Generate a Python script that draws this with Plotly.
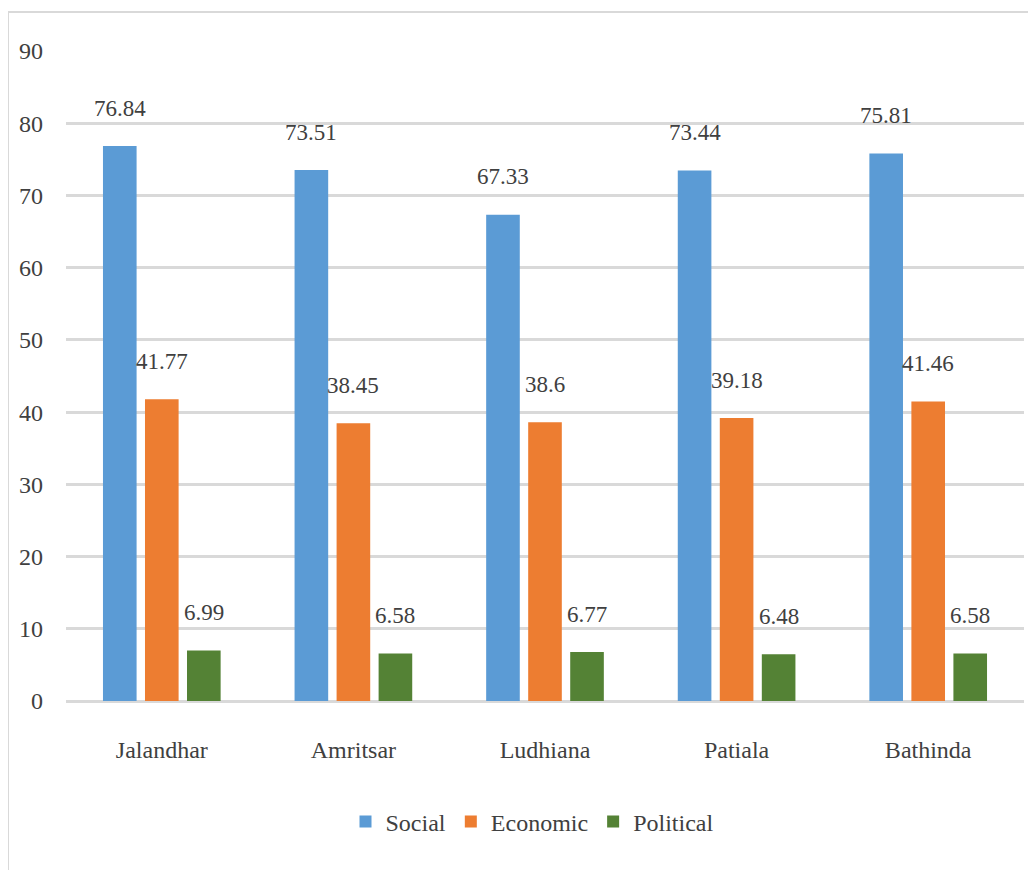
import plotly.graph_objects as go

districts = ["Jalandhar", "Amritsar", "Ludhiana", "Patiala", "Bathinda"]
social = [76.84, 73.51, 67.33, 73.44, 75.81]
economic = [41.77, 38.45, 38.6, 39.18, 41.46]
political = [6.99, 6.58, 6.77, 6.48, 6.58]
series_names = ["Social", "Economic", "Political"]
y_ticks = [0, 10, 20, 30, 40, 50, 60, 70, 80, 90]

colors = ["#5B9BD5", "#ED7D31", "#548235"]
FONT = "Liberation Serif, Times New Roman, serif"
TXT = "#404040"

OFF = 8  # page body margin
W, H = 1036 - OFF, 870 - OFF
ML, MR, MT, MB = 66 - OFF, 12, 51 - OFF, 169
plot_w = W - ML - MR
plot_h = H - MT - MB
BARGAP = 0.342
BARGROUPGAP = 0.2

fig = go.Figure()
all_series = [social, economic, political]
for name, vals, col in zip(series_names, all_series, colors):
    fig.add_trace(go.Bar(
        x=districts, y=vals, name=name,
        marker=dict(color=col, line=dict(width=0)),
    ))

slot = plot_w / len(districts) * (1 - BARGAP) / 3
annotations = []
for si, vals in enumerate(all_series):
    for d, v in zip(districts, vals):
        annotations.append(dict(
            x=d, y=v, xref="x", yref="y", text=str(v), showarrow=False,
            xshift=(si - 1) * slot, yshift=38, yanchor="middle", xanchor="center",
            font=dict(family=FONT, size=23, color=TXT),
        ))

def px_x(px):
    return (px - OFF - ML) / plot_w

def px_y(py):
    return (H - MB - (py - OFF)) / plot_h

shapes = [
    dict(type="line", xref="paper", yref="paper", x0=px_x(8), x1=px_x(1045),
         y0=px_y(12), y1=px_y(12), line=dict(color="#D9D9D9", width=2)),
    dict(type="line", xref="paper", yref="paper", x0=px_x(8), x1=px_x(8),
         y0=px_y(12), y1=px_y(880), line=dict(color="#D9D9D9", width=2)),
]

fig.update_layout(
    width=W, height=H,
    margin=dict(l=ML, r=MR, t=MT, b=MB, pad=0),
    paper_bgcolor="white", plot_bgcolor="white",
    barmode="group", bargap=BARGAP, bargroupgap=BARGROUPGAP,
    font=dict(family=FONT, size=23, color=TXT),
    xaxis=dict(showgrid=False, showline=False, zeroline=False, ticks="",
               tickfont=dict(family=FONT, size=24, color=TXT), ticklabelstandoff=32),
    yaxis=dict(range=[0, 90], tickvals=y_ticks, showgrid=True, gridcolor="#D9D9D9",
               gridwidth=2.5, zeroline=True, zerolinecolor="#D9D9D9", zerolinewidth=2.5,
               showline=False, ticks="", ticklabelstandoff=22,
               tickfont=dict(family=FONT, size=24, color=TXT)),
    legend=dict(orientation="h", x=px_x(532), y=px_y(822), xanchor="center", yanchor="middle",
                font=dict(family=FONT, size=24, color=TXT), itemwidth=30, traceorder="normal"),
    annotations=annotations,
    shapes=shapes,
)

fig.write_html("out.html")
